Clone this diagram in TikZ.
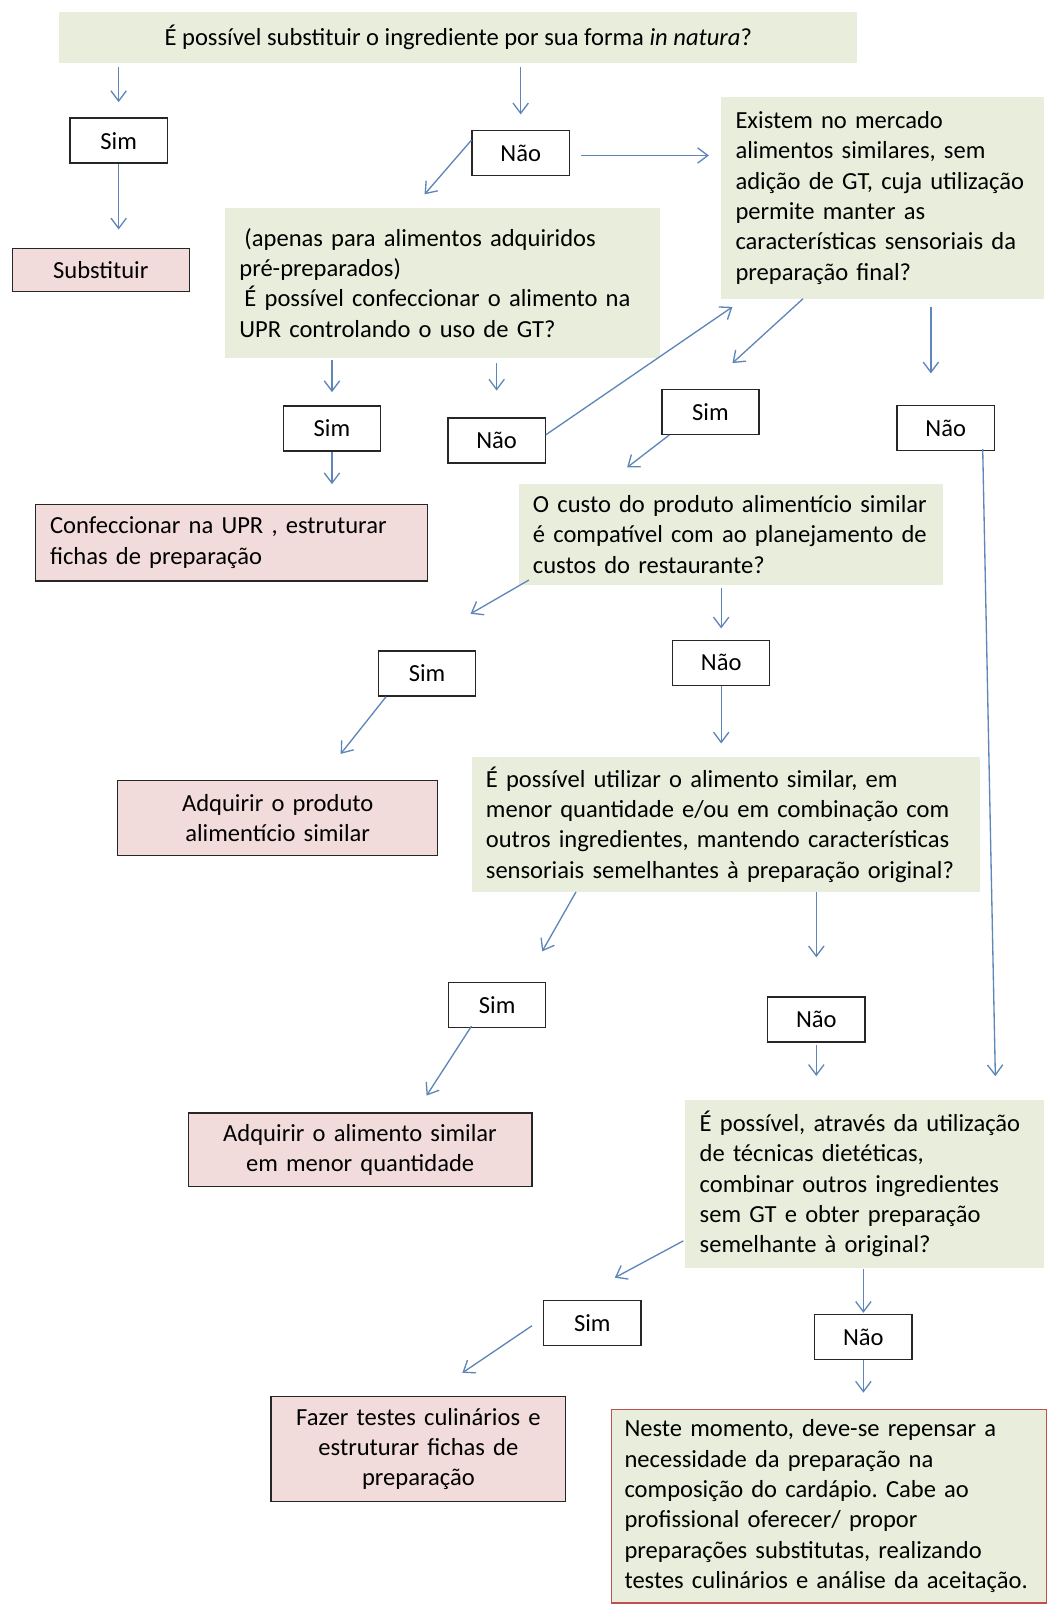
\documentclass[tikz,border=0pt]{standalone}
\usepackage{fontspec}
\setmainfont{Carlito}
\usetikzlibrary{arrows.meta}
\definecolor{boxgreen}{HTML}{E9EEDC}
\definecolor{boxpink}{HTML}{F2DCDB}
\definecolor{arrowblue}{HTML}{5E86B8}
\definecolor{boxred}{HTML}{C0504D}
\frenchspacing
\begin{document}
\begin{tikzpicture}[x=1pt,y=-1pt,
  every node/.style={font=\fontsize{24}{29.7}\selectfont\frenchspacing, inner ysep=0pt, inner xsep=14pt},
  gbox/.style={fill=boxgreen, align=left},
  pbox/.style={fill=boxpink, draw=black!85, line width=1.3pt},
  yn/.style={fill=white, draw=black!85, line width=1.3pt, minimum width=95pt, minimum height=44pt, inner xsep=0pt},
  arr/.style={draw=arrowblue, line width=1.3pt, -{Straight Barb[length=10pt,width=15pt]}}
]
\useasboundingbox (0,0) rectangle (1023,1568);

% question boxes
\node[gbox, minimum width=780pt, minimum height=50pt, align=center] (q1) at (448,37)
  {É possível substituir o ingrediente por sua forma \textit{in natura}?};
\node[gbox, text width=397pt, minimum height=147pt] (q2) at (432.5,276.5)
  {\hspace*{5pt}(apenas para alimentos adquiridos\\pré-preparados)\\\hspace*{5pt}É possível confeccionar o alimento na\\UPR controlando o uso de GT?};
\node[gbox, text width=288pt, minimum height=197pt] (q3) at (863,193.5)
  {Existem no mercado\\alimentos similares, sem\\adição de GT, cuja utilização\\permite manter as\\características sensoriais da\\preparação final?};
\node[gbox, text width=387pt, minimum height=99pt] (q4) at (714.5,522.5)
  {O custo do produto alimentício similar\\é compatível com ao planejamento de\\custos do restaurante?};
\node[gbox, text width=469pt, minimum height=132pt] (q5) at (709.5,806)
  {É possível utilizar o alimento similar, em\\menor quantidade e/ou em combinação com\\outros ingredientes, mantendo características\\sensoriais semelhantes à preparação original?};
\node[gbox, text width=323pt, minimum height=165pt] (q6) at (845.5,1157.5)
  {É possível, através da utilização\\de técnicas dietéticas,\\combinar outros ingredientes\\sem GT e obter preparação\\semelhante à original?};
\node[gbox, draw=boxred, line width=1.2pt, inner xsep=13pt, text width=400pt, minimum height=189pt] (fin) at (810.5,1472.5)
  {Neste momento, deve-se repensar a\\necessidade da preparação na\\composição do cardápio. Cabe ao\\profissional oferecer/ propor\\preparações substitutas, realizando\\testes culinários e análise da aceitação.};

% result boxes
\node[pbox, minimum width=173pt, minimum height=42pt] (subst) at (98.5,264) {Substituir};
\node[pbox, text width=355pt, minimum height=75pt, align=left] (conf) at (226.5,530.5)
  {Confeccionar na UPR , estruturar\\fichas de preparação};
\node[pbox, text width=285pt, minimum height=73pt, align=center] (adq1) at (271.5,799.5)
  {Adquirir o produto\\alimentício similar};
\node[pbox, text width=308pt, minimum height=72pt, align=center] (adq2) at (352,1124)
  {Adquirir o alimento similar\\em menor quantidade};
\node[pbox, text width=260pt, minimum height=103pt, align=center] (fazer) at (409,1416.5)
  {Fazer testes culinários e\\estruturar fichas de\\preparação};

% yes / no boxes
\node[yn] (sim1) at (116,137.5) {Sim};
\node[yn] (nao1) at (509,149.5) {Não};
\node[yn] (sim2) at (324.5,419) {Sim};
\node[yn] (nao2) at (485.5,430.5) {Não};
\node[yn] (sim3) at (694.5,402.5) {Sim};
\node[yn] (nao3) at (924.5,418.5) {Não};
\node[yn] (sim4) at (417.5,658.5) {Sim};
\node[yn] (nao4) at (705,648) {Não};
\node[yn] (sim5) at (486,982.5) {Sim};
\node[yn] (nao5) at (798,996.5) {Não};
\node[yn] (sim6) at (579,1293.5) {Sim};
\node[yn] (nao6) at (844,1307) {Não};

% tip coordinates for free arrow ends
\coordinate (t4) at (415,190);
\coordinate (t5) at (693,152);
\coordinate (t8) at (716,300);
\coordinate (s9) at (785,292);
\coordinate (t9) at (716,355);
\coordinate (s10) at (910,300);
\coordinate (t10) at (910,365);
\coordinate (t11) at (613,457);
\coordinate (t12) at (973,1052);
\coordinate (s14) at (517,567);
\coordinate (t14) at (460,600);
\coordinate (t16) at (333,737);
\coordinate (s18) at (563,872);
\coordinate (t18) at (530,930);
\coordinate (t20) at (417,1071);
\coordinate (s22) at (668,1213);
\coordinate (t22) at (601,1249);
\coordinate (s23) at (520,1296);
\coordinate (t23) at (452,1342);

% connectors
\draw[arr, shorten <=3pt, shorten >=15pt] (q1.south -| sim1.north) -- (sim1.north);
\draw[arr, shorten <=3pt, shorten >=15pt] (q1.south -| nao1.north) -- (nao1.north);
\draw[arr, shorten >=18pt] (sim1.south) -- (sim1.south |- subst.north);
\draw[arr] (nao1.west |- 0,137) -- (t4);
\draw[arr] ([xshift=11pt]nao1.east |- 0,152) -- (t5);
\draw[arr, shorten <=2pt, shorten >=13pt] (q2.south -| sim2.north) -- (sim2.north);
\draw[arr, shorten <=5pt, shorten >=26pt] (q2.south -| nao2.north) -- (nao2.north);
\draw[arr] (nao2.east |- 0,425) -- (t8);
\draw[arr] (s9) -- (t9);
\draw[arr] (s10) -- (t10);
\draw[arr] ([xshift=8pt]sim3.south west) -- (t11);
\draw[arr] ([xshift=-12pt,yshift=2pt]nao3.south east) -- (t12);
\draw[arr, shorten >=19pt] (sim2.south) -- (sim2.south |- conf.north);
\draw[arr] (s14) -- (t14);
\draw[arr, shorten <=3pt, shorten >=11pt] (q4.south -| nao4.north) -- (nao4.north);
\draw[arr] ([xshift=8pt]sim4.south west) -- (t16);
\draw[arr, shorten >=13pt] (nao4.south) -- (nao4.south |- q5.north);
\draw[arr] (s18) -- (t18);
\draw[arr, shorten >=38pt] (q5.south -| nao5.north) -- (nao5.north);
\draw[arr] ([xshift=23pt,yshift=2pt]sim5.south west) -- (t20);
\draw[arr, shorten <=2pt, shorten >=23pt] (nao5.south) -- (nao5.south |- q6.north);
\draw[arr, shorten >=1pt] (q6.south -| nao6.north) -- (nao6.north);
\draw[arr, shorten >=16pt] (nao6.south) -- (nao6.south |- fin.north);
\draw[arr] (s22) -- (t22);
\draw[arr] (s23) -- (t23);
\end{tikzpicture}
\end{document}
